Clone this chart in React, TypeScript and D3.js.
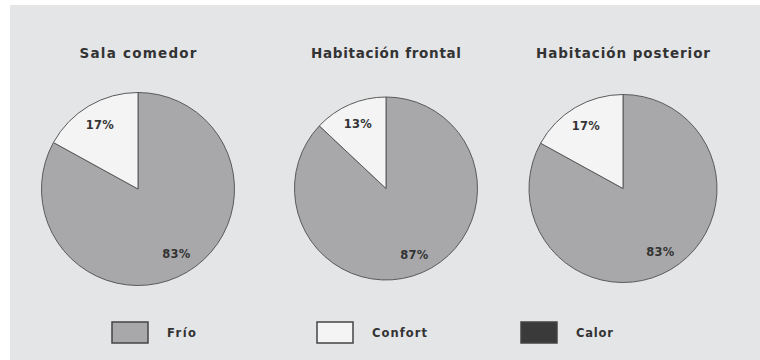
import React from "react";
import * as d3 from "d3";

// Thermal comfort share per room
const rooms = ["Sala comedor", "Habitación frontal", "Habitación posterior"];
const categories = ["Frío", "Confort", "Calor"];
const frio = [83, 87, 83];
const confort = [17, 13, 17];
const calor = [0, 0, 0];

// Layout of each pie (centre x, centre y, radius) and its title width
const pieLayout = [
  { cx: 138, cy: 189, r: 96.5, titleW: 117 },
  { cx: 386, cy: 188.5, r: 91.5, titleW: 150 },
  { cx: 623, cy: 188.5, r: 94, titleW: 174 },
];

const W = 760;
const H = 360;
const FONT = "'DejaVu Sans', Verdana, sans-serif";

const color = d3
  .scaleOrdinal<string, string>()
  .domain(categories)
  .range(["#a8a8aa", "#f4f4f4", "#3a3a3a"]);

const legendLayout = [
  { x: 112, textW: 29 },
  { x: 317, textW: 55 },
  { x: 521, textW: 37 },
];

export default function App() {
  const pie = d3
    .pie<{ key: string; value: number }>()
    .sort(null)
    .value((d) => d.value)
    .startAngle(0)
    .endAngle(2 * Math.PI);

  return (
    <div style={{ position: "fixed", left: 0, top: 0 }}>
      <svg width={W} height={H} style={{ display: "block" }}>
        <rect x={0} y={0} width={W} height={H} fill="#ffffff" />
        <rect x={10} y={5} width={W - 10} height={H - 5} fill="#e4e5e7" />
        {rooms.map((room, i) => {
          const L = pieLayout[i];
          const data = [
            { key: categories[0], value: frio[i] },
            { key: categories[1], value: confort[i] },
            { key: categories[2], value: calor[i] },
          ];
          const arcs = pie(data);
          const arc = d3
            .arc<d3.PieArcDatum<{ key: string; value: number }>>()
            .innerRadius(0)
            .outerRadius(L.r);
          const labelArc = d3
            .arc<d3.PieArcDatum<{ key: string; value: number }>>()
            .innerRadius(L.r * 0.78)
            .outerRadius(L.r * 0.78);
          return (
            <g key={room}>
              <text
                x={L.cx}
                y={58}
                textAnchor="middle"
                fontFamily={FONT}
                fontWeight="bold"
                fontSize={13.5}
                fill="#333"
                textLength={L.titleW}
                lengthAdjust="spacing"
              >
                {room}
              </text>
              <g transform={`translate(${L.cx},${L.cy})`}>
                {arcs
                  .filter((a) => a.data.value > 0)
                  .map((a) => (
                    <path
                      key={a.data.key}
                      d={arc(a) || ""}
                      fill={color(a.data.key)}
                      stroke="#5a5a5a"
                      strokeWidth={1}
                    />
                  ))}
                {arcs
                  .filter((a) => a.data.value > 0)
                  .map((a) => {
                    const [x, y] = labelArc.centroid(a);
                    return (
                      <text
                        key={a.data.key + "-l"}
                        x={x}
                        y={y + 4.5}
                        textAnchor="middle"
                        fontFamily={FONT}
                        fontWeight="bold"
                        fontSize={11.5}
                        fill="#333"
                        textLength={28}
                        lengthAdjust="spacing"
                      >
                        {`${a.data.value}%`}
                      </text>
                    );
                  })}
              </g>
            </g>
          );
        })}
        {categories.map((c, i) => {
          const lg = legendLayout[i];
          return (
            <g key={c}>
              <rect
                x={lg.x}
                y={322}
                width={36}
                height={21}
                fill={color(c)}
                stroke="#444"
                strokeWidth={1.5}
              />
              <text
                x={lg.x + 55}
                y={337}
                fontFamily={FONT}
                fontWeight="bold"
                fontSize={11.5}
                fill="#333"
                textLength={lg.textW}
                lengthAdjust="spacing"
              >
                {c}
              </text>
            </g>
          );
        })}
      </svg>
    </div>
  );
}
